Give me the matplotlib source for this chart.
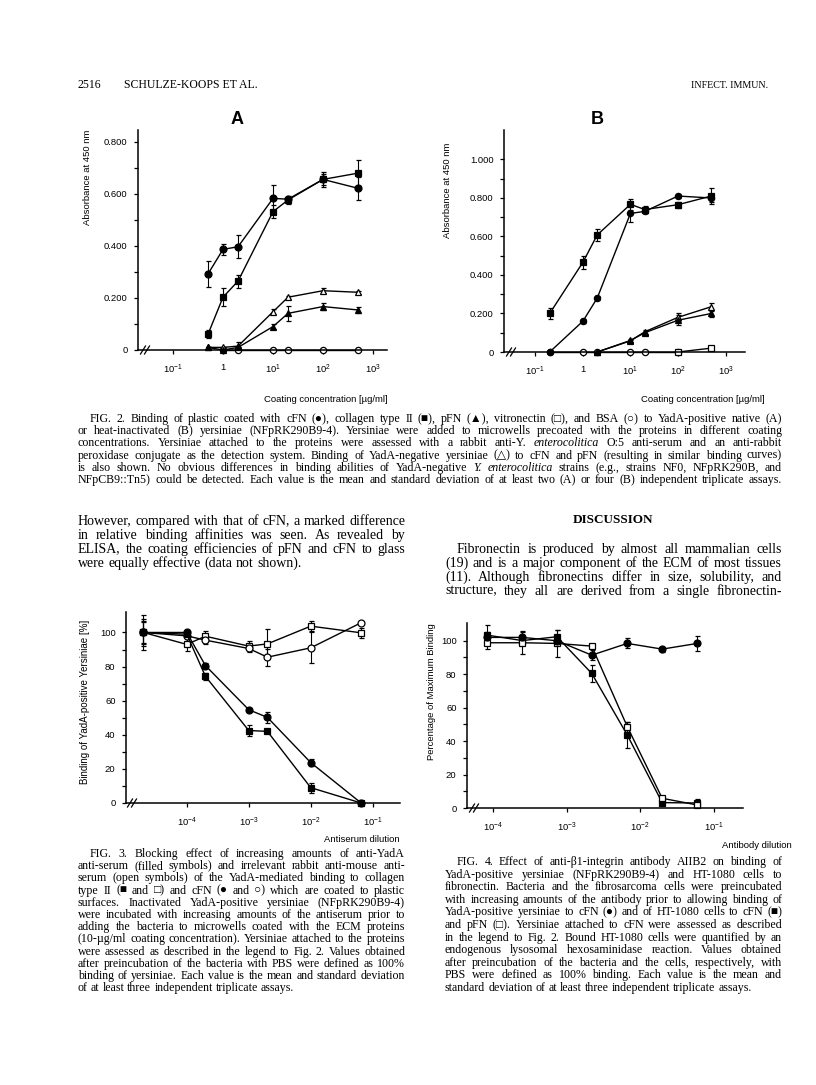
import matplotlib
matplotlib.use('Agg')
import matplotlib.pyplot as plt
from matplotlib.ticker import FixedLocator, FixedFormatter, NullLocator

# page size in pixels
W, H = 816, 1085

plt.rcParams['font.family'] = ['Liberation Sans', 'DejaVu Sans']
plt.rcParams['mathtext.fontset'] = 'custom'
plt.rcParams['mathtext.rm'] = 'Liberation Sans'
plt.rcParams['mathtext.it'] = 'Liberation Sans:italic'
plt.rcParams['mathtext.bf'] = 'Liberation Sans:bold'

SERIF = ['Liberation Serif', 'DejaVu Serif', 'DejaVu Sans']

# ---------------- data: FIG. 2 A (native yersiniae) ----------------
conc_a = [0.5, 1, 2, 10, 20, 100, 500]
a_cfn = [0.292, 0.387, 0.397, 0.583, 0.580, 0.656, 0.622]
a_cfn_sd = [0.05, 0.02, 0.045, 0.05, 0.01, 0.03, 0.045]
a_col = [0.06, 0.203, 0.265, 0.532, 0.577, 0.656, 0.68]
a_col_sd = [0.015, 0.035, 0.025, 0.025, 0.015, 0.02, 0.05]
a_pfn = [0.01, 0.0, 0.01, 0.09, 0.141, 0.167, 0.154]
a_pfn_sd = [0.0, 0.0, 0.0, 0.01, 0.03, 0.015, 0.012]
a_neg = [0.01, 0.01, 0.015, 0.147, 0.203, 0.228, 0.222]
a_neg_sd = [0.0, 0.0, 0.015, 0.01, 0.005, 0.01, 0.005]
conc_a_bsa = [1, 2, 10, 20, 100, 500]
a_bsa = [0, 0, 0, 0, 0, 0]

# ---------------- data: FIG. 2 B (heat-inactivated) ----------------
conc_b = [0.2, 1, 2, 10, 20, 100, 500]
b_col = [0.20, 0.466, 0.608, 0.767, 0.74, 0.765, 0.81]
b_col_sd = [0.03, 0.035, 0.03, 0.03, 0.02, 0.015, 0.04]
b_cfn = [0.0, 0.16, 0.28, 0.72, 0.73, 0.81, 0.80]
b_cfn_sd = [0.0, 0.01, 0.01, 0.045, 0.01, 0.01, 0.02]
conc_b_low = [2, 10, 20, 100, 500]
b_pfn = [0.0, 0.06, 0.10, 0.165, 0.20]
b_pfn_sd = [0.0, 0.01, 0.01, 0.025, 0.02]
b_neg = [0.0, 0.058, 0.105, 0.18, 0.235]
b_neg_sd = [0.0, 0.005, 0.01, 0.02, 0.02]
conc_b_bsa = [0.2, 1, 2, 10, 20, 100]
b_bsa = [0, 0, 0, 0, 0, 0]
conc_b_vn = [100, 500]
b_vn = [0.0, 0.02]

# ---------------- data: FIG. 3 ----------------
dil3 = [2e-5, 1e-4, 2e-4, 1e-3, 2e-3, 1e-2, 6.5e-2]
f3_cfn_anti = [100, 100, 80.6, 54.7, 50.2, 23.7, 0]
f3_cfn_anti_sd = [6, 1, 1.5, 1, 3, 2, 0]
f3_col_anti = [100, 99, 74.3, 42.5, 42, 9, 0]
f3_col_anti_sd = [7, 1, 2, 3, 1, 3, 1]
f3_cfn_ctrl = [100, 98, 95.5, 90.6, 85.5, 91, 105.7]
f3_cfn_ctrl_sd = [8, 2, 2, 2, 5, 9, 1]
f3_col_ctrl = [100, 93, 97.8, 92, 93.3, 103.7, 99.8]
f3_col_ctrl_sd = [10, 4, 3, 3, 9, 3, 3]

# ---------------- data: FIG. 4 ----------------
dil4 = [8.2e-5, 2.5e-4, 7.4e-4, 2.2e-3, 6.7e-3, 2.0e-2, 6.0e-2]
f4_yer = [101.9, 101.9, 99.9, 91.3, 98.3, 94.9, 98.3]
f4_yer_sd = [3, 3, 2, 3, 3, 1.5, 4.5]
f4_ht_cfn = [103.3, 100, 102.3, 80.4, 43.6, 3.2, 3.0]
f4_ht_cfn_sd = [6, 2, 4, 5, 8, 1, 2.5]
f4_ht_pfn = [98.7, 98.7, 98.3, 96.7, 48.6, 5.8, 1.8]
f4_ht_pfn_sd = [4, 7, 8, 1.5, 3, 1, 1]

# ---------------- text ----------------
fig2_caption = [
    "FIG. 2. Binding of plastic coated with cFN (●), collagen type II (■), pFN (▲), vitronectin (□), and BSA (○) to YadA-positive native (A)",
    "or heat-inactivated (B) yersiniae (NFpRK290B9-4). Yersiniae were added to microwells precoated with the proteins in different coating",
    "concentrations. Yersiniae attached to the proteins were assessed with a rabbit anti-Y. _enterocolitica O:5 anti-serum and an anti-rabbit",
    "peroxidase conjugate as the detection system. Binding of YadA-negative yersiniae (△) to cFN and pFN (resulting in similar binding curves)",
    "is also shown. No obvious differences in binding abilities of YadA-negative _Y. _enterocolitica strains (e.g., strains NF0, NFpRK290B, and",
    "NFpCB9::Tn5) could be detected. Each value is the mean and standard deviation of at least two (A) or four (B) independent triplicate assays.",
]
body_left = [
    "However, compared with that of cFN, a marked difference",
    "in relative binding affinities was seen. As revealed by",
    "ELISA, the coating efficiencies of pFN and cFN to glass",
    "were equally effective (data not shown).",
]
body_right = [
    "Fibronectin is produced by almost all mammalian cells",
    "(19) and is a major component of the ECM of most tissues",
    "(11). Although fibronectins differ in size, solubility, and",
    "structure, they all are derived from a single fibronectin-",
]
fig3_caption = [
    "FIG. 3. Blocking effect of increasing amounts of anti-YadA",
    "anti-serum (filled symbols) and irrelevant rabbit anti-mouse anti-",
    "serum (open symbols) of the YadA-mediated binding to collagen",
    "type II (■ and □) and cFN (● and ○) which are coated to plastic",
    "surfaces. Inactivated YadA-positive yersiniae (NFpRK290B9-4)",
    "were incubated with increasing amounts of the antiserum prior to",
    "adding the bacteria to microwells coated with the ECM proteins",
    "(10-µg/ml coating concentration). Yersiniae attached to the proteins",
    "were assessed as described in the legend to Fig. 2. Values obtained",
    "after preincubation of the bacteria with PBS were defined as 100%",
    "binding of yersiniae. Each value is the mean and standard deviation",
    "of at least three independent triplicate assays.",
]
fig4_caption = [
    "FIG. 4. Effect of anti-β1-integrin antibody AIIB2 on binding of",
    "YadA-positive yersiniae (NFpRK290B9-4) and HT-1080 cells to",
    "fibronectin. Bacteria and the fibrosarcoma cells were preincubated",
    "with increasing amounts of the antibody prior to allowing binding of",
    "YadA-positive yersiniae to cFN (●) and of HT-1080 cells to cFN (■)",
    "and pFN (□). Yersiniae attached to cFN were assessed as described",
    "in the legend to Fig. 2. Bound HT-1080 cells were quantified by an",
    "endogenous lysosomal hexosaminidase reaction. Values obtained",
    "after preincubation of the bacteria and the cells, respectively, with",
    "PBS were defined as 100% binding. Each value is the mean and",
    "standard deviation of at least three independent triplicate assays.",
]

fig = plt.figure(figsize=(W / 100, H / 100), dpi=100)
fig.patch.set_facecolor('white')


def add_ax(x0, top, x1, bottom):
    # axes placed by page pixels
    return fig.add_axes([x0 / W, 1 - bottom / H, (x1 - x0) / W, (bottom - top) / H])


def style_ax(ax, yticks, ylabels, xticks, xlabels):
    for s in ['top', 'right']:
        ax.spines[s].set_visible(False)
    for s in ['left', 'bottom']:
        ax.spines[s].set_linewidth(1.1)
    ax.set_xscale('log')
    ax.xaxis.set_major_locator(FixedLocator(xticks))
    ax.xaxis.set_major_formatter(FixedFormatter(xlabels))
    ax.xaxis.set_minor_locator(NullLocator())
    ax.yaxis.set_major_locator(FixedLocator(yticks))
    ax.yaxis.set_major_formatter(FixedFormatter(ylabels))
    ax.tick_params(axis='y', direction='out', length=3.0, width=0.9, pad=4.5, labelsize=6.8)
    ax.tick_params(axis='x', direction='out', length=3.0, width=0.9, pad=6.5, labelsize=6.8)
    ax.patch.set_alpha(0)


def axis_break(ax, x_px):
    # the little "//" on the x-axis next to the origin
    bb = ax.get_position()
    wpx = bb.width * W
    hpx = bb.height * H
    for dx in [0, 4]:
        x = (x_px + dx) / wpx
        ax.plot([x - 2.5 / wpx, x + 2.5 / wpx], [-4 / hpx, 4 / hpx], color='black',
                lw=0.9, transform=ax.transAxes, clip_on=False)


def series(ax, x, y, sd, marker, filled, ms=5):
    eb = ax.errorbar(x, y, yerr=sd, fmt='-' + marker, color='black', lw=1.0,
                     mfc='black' if filled else 'white', mec='black', mew=0.9, ms=ms,
                     elinewidth=0.8, capsize=1.8, capthick=0.8)
    for a in eb.get_children():
        a.set_clip_on(False)


def page_text(x, y, s, **kw):
    return fig.text(x / W, 1 - y / H, s, **kw)


renderer = fig.canvas.get_renderer()


def text_line(line, x0, x1, y, size, justify=True, weight='normal'):
    # place each word by hand so the line is flush on both sides
    words = line.split(' ')
    arts = []
    base = y + size * 100 / 72 * 0.33   # baseline a bit under the line centre
    for w in words:
        st = 'normal'
        if w.startswith('_'):
            w = w[1:]
            st = 'italic'
        arts.append(page_text(0, base, w, fontsize=size, family=SERIF, style=st,
                              weight=weight, va='baseline', ha='left'))
    widths = [a.get_window_extent(renderer).width for a in arts]
    space = size * 100 / 72 * 0.25
    gap = space
    if justify and len(arts) > 1:
        gap = (x1 - x0 - sum(widths)) / (len(arts) - 1)
        if gap < space * 0.8:
            scale = (x1 - x0 - space * 0.8 * (len(arts) - 1)) / sum(widths)
            for a in arts:
                a.set_fontsize(size * scale)
            widths = [a.get_window_extent(renderer).width for a in arts]
            gap = (x1 - x0 - sum(widths)) / (len(arts) - 1)
    x = x0
    for a, w in zip(arts, widths):
        a.set_x(x / W)
        x += w + gap


def paragraph(lines, x0, x1, y0, dy, size, indent=12, last_flush=False):
    for i, line in enumerate(lines):
        last = (i == len(lines) - 1)
        text_line(line, x0 + (indent if i == 0 else 0), x1, y0 + i * dy, size,
                  justify=(not last) or last_flush)


# ---------------- header ----------------
page_text(78, 85, '2516', fontsize=8.5, family=SERIF, va='center')
page_text(124, 85, 'SCHULZE-KOOPS ET AL.', fontsize=8.5, family=SERIF, va='center')
page_text(768, 85, 'INFECT. IMMUN.', fontsize=7.2, family=SERIF, va='center', ha='right')

log_labels_2 = ['10$^{-1}$', '1', '10$^{1}$', '10$^{2}$', '10$^{3}$']
log_ticks_2 = [0.1, 1, 10, 100, 1000]

# ---------------- FIG. 2 A ----------------
axA = add_ax(138, 130, 387, 350)
style_ax(axA, [0, 0.1, 0.2, 0.3, 0.4, 0.5, 0.6, 0.7, 0.8],
         ['0', '', '0.200', '', '0.400', '', '0.600', '', '0.800'],
         log_ticks_2, log_labels_2)
axA.set_xlim(10 ** -1.7, 10 ** 3.28)
axA.set_ylim(0, 0.846)
series(axA, conc_a_bsa, a_bsa, None, 'o', False, ms=4.5)
series(axA, conc_a, a_neg, a_neg_sd, '^', False, ms=4.5)
series(axA, conc_a, a_pfn, a_pfn_sd, '^', True, ms=4.5)
series(axA, conc_a, a_col, a_col_sd, 's', True, ms=4.8)
series(axA, conc_a, a_cfn, a_cfn_sd, 'o', True, ms=5)
axis_break(axA, 5)
page_text(237, 120, 'A', fontsize=13, weight='bold', ha='center', va='center')
page_text(87, 130, 'Absorbance at 450 nm', fontsize=6.8, rotation=90, ha='center', va='top')
page_text(388, 400, 'Coating concentration [µg/ml]', fontsize=6.8, ha='right', va='center')

# ---------------- FIG. 2 B ----------------
axB = add_ax(504, 130, 745, 352)
style_ax(axB, [0, 0.1, 0.2, 0.3, 0.4, 0.5, 0.6, 0.7, 0.8, 0.9, 1.0],
         ['0', '', '0.200', '', '0.400', '', '0.600', '', '0.800', '', '1.000'],
         log_ticks_2, log_labels_2)
axB.set_xlim(10 ** -1.66, 10 ** 3.41)
axB.set_ylim(0, 1.153)
series(axB, conc_b_bsa, b_bsa, None, 'o', False, ms=4.5)
series(axB, conc_b_vn, b_vn, None, 's', False, ms=4.5)
series(axB, conc_b_low, b_neg, b_neg_sd, '^', False, ms=4.5)
series(axB, conc_b_low, b_pfn, b_pfn_sd, '^', True, ms=4.5)
series(axB, conc_b, b_cfn, b_cfn_sd, 'o', True, ms=4.5)
series(axB, conc_b, b_col, b_col_sd, 's', True, ms=4.8)
axis_break(axB, 5)
page_text(597, 120, 'B', fontsize=13, weight='bold', ha='center', va='center')
page_text(447, 143, 'Absorbance at 450 nm', fontsize=6.8, rotation=90, ha='center', va='top')
page_text(765, 400, 'Coating concentration [µg/ml]', fontsize=6.8, ha='right', va='center')

# ---------------- captions and body text ----------------
paragraph(fig2_caption, 78, 782, 418, 12.2, 8.6, last_flush=True)
paragraph(body_left, 78, 405, 520, 14.0, 10.0, indent=0)
page_text(613, 520, 'DISCUSSION', fontsize=9.5, family=SERIF, weight='bold', ha='center', va='center')
paragraph(body_right, 445, 782, 548, 14.0, 10.0, last_flush=True)

log_labels_d = ['10$^{-4}$', '10$^{-3}$', '10$^{-2}$', '10$^{-1}$']
log_ticks_d = [1e-4, 1e-3, 1e-2, 1e-1]
pct_ticks = [0, 10, 20, 30, 40, 50, 60, 70, 80, 90, 100]
pct_labels = ['0', '', '20', '', '40', '', '60', '', '80', '', '100']

# ---------------- FIG. 3 ----------------
ax3 = add_ax(126, 612, 400, 803)
style_ax(ax3, pct_ticks, pct_labels, log_ticks_d, log_labels_d)
ax3.set_xlim(10 ** -4.98, 10 ** -0.56)
ax3.set_ylim(0, 112)
series(ax3, dil3, f3_col_ctrl, f3_col_ctrl_sd, 's', False, ms=5)
series(ax3, dil3, f3_cfn_ctrl, f3_cfn_ctrl_sd, 'o', False, ms=5)
series(ax3, dil3, f3_col_anti, f3_col_anti_sd, 's', True, ms=5)
series(ax3, dil3, f3_cfn_anti, f3_cfn_anti_sd, 'o', True, ms=5)
axis_break(ax3, 4)
page_text(85, 702, "Binding of YadA-positive Yersiniae [%]", fontsize=7.0, rotation=90,
          ha='center', va='center')
page_text(400, 840, 'Antiserum dilution', fontsize=6.8, ha='right', va='center')

# ---------------- FIG. 4 ----------------
ax4 = add_ax(467, 623, 743, 808)
style_ax(ax4, pct_ticks, pct_labels, log_ticks_d, log_labels_d)
ax4.set_xlim(10 ** -4.354, 10 ** -0.6)
ax4.set_ylim(0, 110.5)
series(ax4, dil4, f4_ht_cfn, f4_ht_cfn_sd, 's', True, ms=5)
series(ax4, dil4, f4_ht_pfn, f4_ht_pfn_sd, 's', False, ms=5)
series(ax4, dil4, f4_yer, f4_yer_sd, 'o', True, ms=5)
axis_break(ax4, 5)
page_text(432, 692, 'Percentage of Maximum Binding', fontsize=6.8, rotation=90,
          ha='center', va='center')
page_text(792, 845, 'Antibody dilution', fontsize=6.8, ha='right', va='center')

paragraph(fig3_caption, 78, 405, 853, 12.2, 8.6)
paragraph(fig4_caption, 445, 782, 861, 12.6, 8.6)

fig.savefig('out.png', dpi=100, facecolor='white')
